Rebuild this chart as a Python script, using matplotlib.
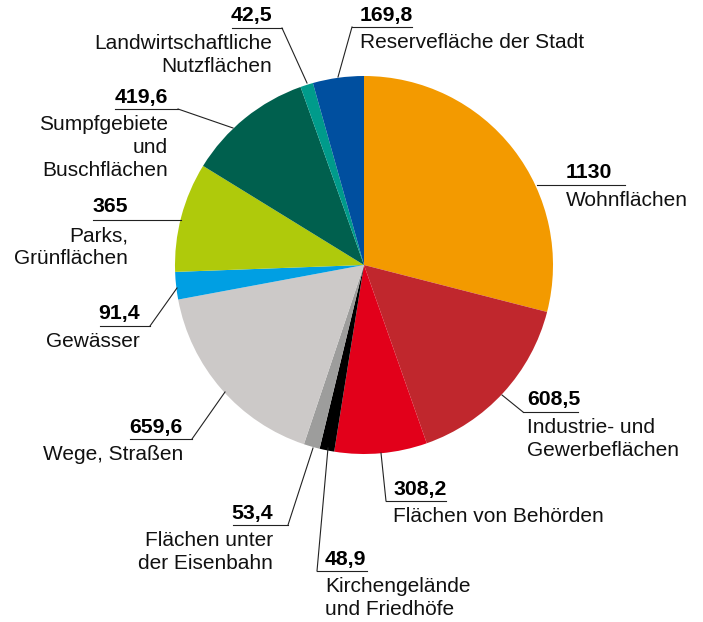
import matplotlib.pyplot as plt

plt.rcParams['font.family'] = ['Liberation Sans', 'DejaVu Sans']

# Flächennutzung, im Uhrzeigersinn ab 12 Uhr
werte = [1130, 608.5, 308.2, 48.9, 53.4, 659.6, 91.4, 365, 419.6, 42.5, 169.8]
zahlen = ["1130", "608,5", "308,2", "48,9", "53,4", "659,6", "91,4", "365",
          "419,6", "42,5", "169,8"]
namen = ["Wohnflächen", "Industrie- und\nGewerbeflächen", "Flächen von Behörden",
         "Kirchengelände\nund Friedhöfe", "Flächen unter\nder Eisenbahn",
         "Wege, Straßen", "Gewässer", "Parks,\nGrünflächen",
         "Sumpfgebiete\nund\nBuschflächen", "Landwirtschaftliche\nNutzflächen",
         "Reservefläche der Stadt"]
farben = ["#F39A00", "#C0272D", "#E2001A", "#000000", "#9D9D9C", "#CCC9C8",
          "#009FE3", "#AFCA0B", "#00604E", "#009B8B", "#004F9F"]

W, H = 703, 622
# Beschriftung in Pixeln (y von oben): Zahl x, Zahl y, Ausrichtung,
# Unterstrich x0, x1, y, Leiterlinie bis (x, y) oder None
layout = [
    (566, 172, 'left', 537, 625, 185, None),
    (527, 400, 'left', 523, 578, 412, (502, 395)),
    (393, 489, 'left', 386, 446, 501, (381, 453)),
    (325, 559, 'left', 317, 367, 571, (328, 448)),
    (273, 513, 'right', 233, 288, 525, (313, 448)),
    (183, 427, 'right', 130, 192, 439, (225, 392)),
    (140, 314, 'right', 100, 150, 326, (177, 288)),
    (128, 207, 'right', 93, 181, 220, None),
    (168, 97, 'right', 115, 178, 109, (233, 128)),
    (272, 15, 'right', 232, 282, 28, (307, 83)),
    (360, 15, 'left', 352, 412, 27, (338, 77)),
]

fig = plt.figure(figsize=(W / 100, H / 100), dpi=100)
ax = fig.add_axes([0, 0, 1, 1])

ax.pie(werte, colors=farben, startangle=90, counterclock=False,
       center=(364, H - 265), radius=189, frame=True)
ax.set_xlim(0, W)
ax.set_ylim(0, H)
ax.axis('off')

for zahl, name, (nx, ny, ha, ux0, ux1, uy, lead) in zip(zahlen, namen, layout):
    ax.text(nx, H - ny, zahl, ha=ha, va='center', fontsize=15.3,
            fontweight='bold', color='black')
    ax.plot([ux0, ux1], [H - uy, H - uy], color='#222222', lw=0.8)
    if lead is not None:
        ex = ux0 if (ha == 'left') else ux1
        ax.plot([ex, lead[0]], [H - uy, H - lead[1]], color='#222222', lw=0.8)
    ax.text(nx, H - uy - 6, name, ha=ha, va='top', fontsize=15,
            multialignment=ha, linespacing=1.28, color='#111111')

fig.savefig('out.png', dpi=100)
